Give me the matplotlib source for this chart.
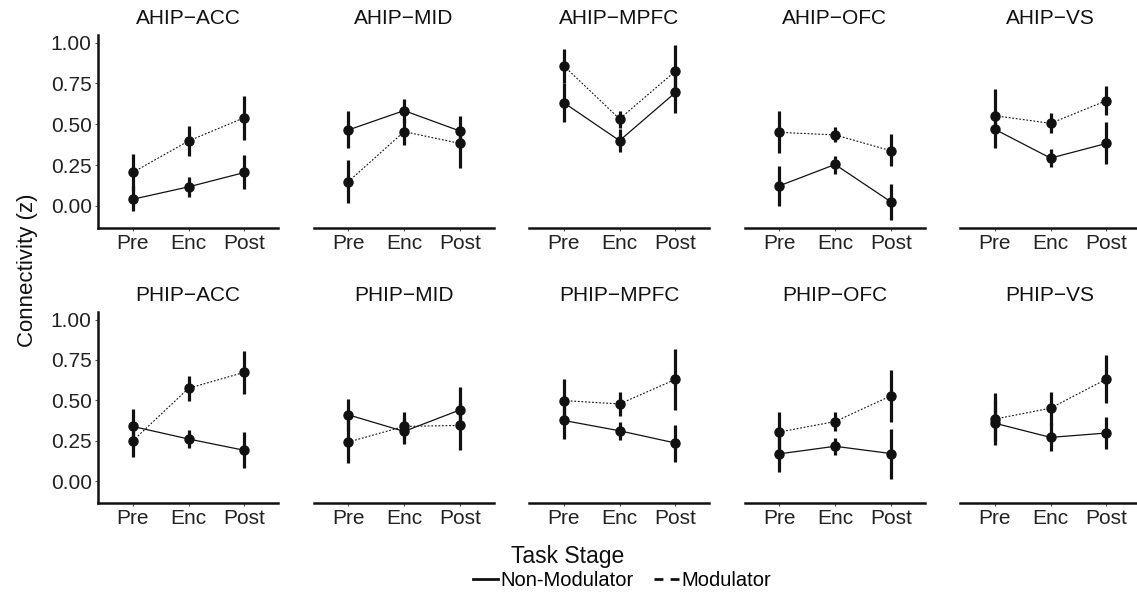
import matplotlib.pyplot as plt
from matplotlib.lines import Line2D

plt.rcParams['font.family'] = ['Liberation Sans', 'DejaVu Sans']

stages = ["Pre", "Enc", "Post"]
targets = ["ACC", "MID", "MPFC", "OFC", "VS"]
seeds = ["AHIP", "PHIP"]

# AHIP row: means and error bar ends (lo / hi), one list per target
ahip_non_mean = [[0.041, 0.117, 0.205], [0.465, 0.584, 0.459], [0.633, 0.400, 0.695],
                 [0.123, 0.254, 0.025], [0.470, 0.293, 0.383]]
ahip_non_lo = [[-0.033, 0.055, 0.101], [0.353, 0.51, 0.37], [0.516, 0.328, 0.572],
               [0.0, 0.193, -0.084], [0.357, 0.236, 0.254]]
ahip_non_hi = [[0.12, 0.175, 0.311], [0.582, 0.654, 0.553], [0.75, 0.47, 0.82],
               [0.246, 0.307, 0.133], [0.58, 0.347, 0.513]]
ahip_mod_mean = [[0.205, 0.398, 0.541], [0.148, 0.455, 0.383], [0.859, 0.533, 0.826],
                 [0.451, 0.435, 0.338], [0.553, 0.506, 0.645]]
ahip_mod_lo = [[0.09, 0.305, 0.404], [0.018, 0.373, 0.234], [0.75, 0.48, 0.70],
               [0.326, 0.39, 0.244], [0.45, 0.445, 0.557]]
ahip_mod_hi = [[0.316, 0.49, 0.674], [0.281, 0.54, 0.48], [0.963, 0.584, 0.988],
               [0.582, 0.482, 0.439], [0.715, 0.568, 0.736]]

# PHIP row
phip_non_mean = [[0.339, 0.261, 0.191], [0.411, 0.308, 0.441], [0.376, 0.312, 0.236],
                 [0.169, 0.216, 0.171], [0.359, 0.271, 0.298]]
phip_non_lo = [[0.24, 0.206, 0.082], [0.31, 0.23, 0.34], [0.263, 0.253, 0.117],
               [0.055, 0.164, 0.015], [0.222, 0.185, 0.201]]
phip_non_hi = [[0.446, 0.314, 0.302], [0.509, 0.39, 0.585], [0.49, 0.366, 0.349],
               [0.29, 0.267, 0.323], [0.50, 0.36, 0.40]]
phip_mod_mean = [[0.249, 0.575, 0.674], [0.242, 0.339, 0.345], [0.499, 0.478, 0.630],
                 [0.304, 0.369, 0.528], [0.384, 0.452, 0.632]]
phip_mod_lo = [[0.15, 0.497, 0.538], [0.113, 0.26, 0.195], [0.38, 0.405, 0.441],
               [0.18, 0.308, 0.369], [0.25, 0.35, 0.486]]
phip_mod_hi = [[0.35, 0.651, 0.805], [0.37, 0.427, 0.49], [0.63, 0.55, 0.817],
               [0.431, 0.431, 0.688], [0.544, 0.554, 0.78]]

yticks = [0.0, 0.25, 0.5, 0.75, 1.0]
ytick_labels = ["0.00", "0.25", "0.50", "0.75", "1.00"]

rows = [
    (ahip_non_mean, ahip_non_lo, ahip_non_hi, ahip_mod_mean, ahip_mod_lo, ahip_mod_hi),
    (phip_non_mean, phip_non_lo, phip_non_hi, phip_mod_mean, phip_mod_lo, phip_mod_hi),
]

W, H = 1137, 601
fig = plt.figure(figsize=(W / 100, H / 100), dpi=100)

ink = "#111111"
left0 = 98 / W
pw = 180 / W
pitch = 215.5 / W
row_box = [(228, 35), (503, 312)]  # (bottom px, top px)

x = list(range(len(stages)))

def draw_series(ax, mean, lo, hi, dash):
    ax.vlines(x, lo, hi, color=ink, lw=2.3, zorder=2)
    if dash:
        ax.plot(x, mean, color=ink, lw=0.8, ls=(0, (1.6, 1.6)), zorder=3)
    else:
        ax.plot(x, mean, color=ink, lw=0.9, zorder=3)
    ax.plot(x, mean, 'o', color=ink, ms=6.5, zorder=4)

for r, (nm, nl, nh, mm, ml, mh) in enumerate(rows):
    bpx, tpx = row_box[r]
    for c, tgt in enumerate(targets):
        ax = fig.add_axes([left0 + c * pitch, 1 - bpx / H, pw, (bpx - tpx) / H])
        draw_series(ax, nm[c], nl[c], nh[c], False)
        draw_series(ax, mm[c], ml[c], mh[c], True)
        ax.set_xlim(-0.62, 2.6)
        ax.set_ylim(-0.135, 1.047)
        ax.set_xticks(x)
        ax.set_xticklabels(stages, fontsize=15, color="#222222")
        ax.tick_params(axis='x', length=2.5, width=0.8, color="#555555", pad=2)
        for s in ["top", "right"]:
            ax.spines[s].set_visible(False)
        ax.spines["bottom"].set_linewidth(1.8)
        ax.spines["bottom"].set_color(ink)
        if c == 0:
            ax.set_yticks(yticks)
            ax.set_yticklabels(ytick_labels, fontsize=15, color="#222222")
            ax.tick_params(axis='y', length=2.5, width=0.8, color="#555555", pad=2)
            ax.spines["left"].set_linewidth(1.8)
            ax.spines["left"].set_color(ink)
        else:
            ax.spines["left"].set_visible(False)
            ax.set_yticks([])
        ax.set_title(seeds[r] + "\u2212" + tgt, fontsize=15, color="#111111", pad=8)

fig.text(28 / W, 1 - 270 / H, "Connectivity (z)", rotation=90, ha="center", va="center",
         fontsize=16, color="#111111")
fig.text(568 / W, 1 - 556 / H, "Task Stage", ha="center", va="center",
         fontsize=16.5, color="#111111")

handles = [Line2D([], [], color=ink, lw=2),
           Line2D([], [], color=ink, lw=2, ls=(0, (3.2, 2.6)))]
fig.legend(handles, ["Non-Modulator", "Modulator"], loc="center",
           bbox_to_anchor=(622 / W, 1 - 581 / H), ncol=2, frameon=False,
           fontsize=14.5, handlelength=1.25, handletextpad=0.1, columnspacing=1.0,
           borderaxespad=0, borderpad=0)

fig.savefig("out.png", dpi=100)
